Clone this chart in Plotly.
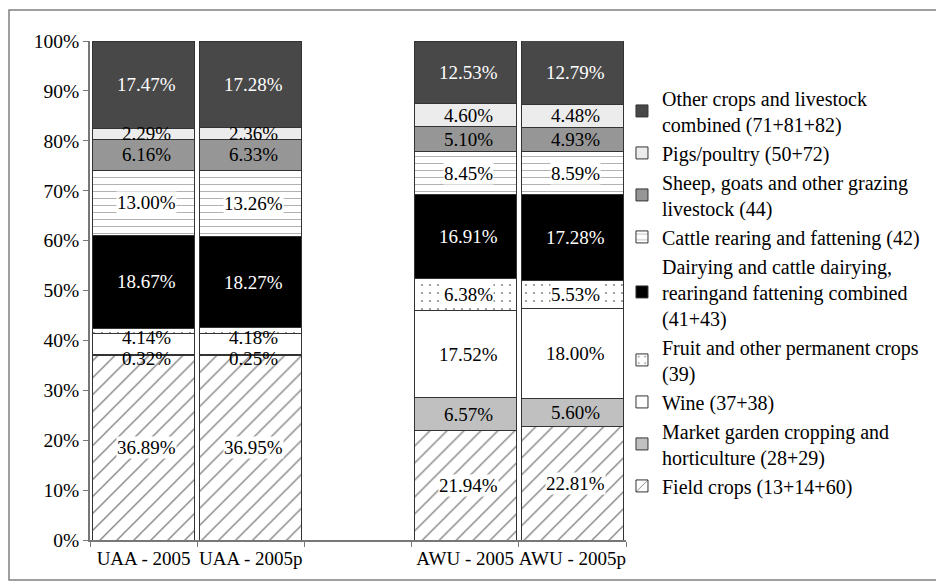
import plotly.graph_objects as go

categories = ["UAA - 2005", "UAA - 2005p", "AWU - 2005", "AWU - 2005p"]
slot_order = ["UAA - 2005", "UAA - 2005p", " ", "AWU - 2005", "AWU - 2005p"]

# series from bottom of stack to top
series_names = [
    "Field crops (13+14+60)",
    "Market garden cropping and<br>horticulture (28+29)",
    "Wine (37+38)",
    "Fruit and other permanent crops<br>(39)",
    "Dairying and cattle dairying,<br>rearingand fattening combined<br>(41+43)",
    "Cattle rearing and fattening (42)",
    "Sheep, goats and other grazing<br>livestock (44)",
    "Pigs/poultry (50+72)",
    "Other crops and livestock<br>combined (71+81+82)",
]
field_crops = [36.89, 36.95, 21.94, 22.81]
market_garden = [0.32, 0.25, 6.57, 5.60]
wine = [4.14, 4.18, 17.52, 18.00]
fruit = [1.06, 1.12, 6.38, 5.53]
dairying = [18.67, 18.27, 16.91, 17.28]
cattle_rearing = [13.00, 13.26, 8.45, 8.59]
sheep_goats = [6.16, 6.33, 5.10, 4.93]
pigs_poultry = [2.29, 2.36, 4.60, 4.48]
other_crops = [17.47, 17.28, 12.53, 12.79]
fruit_labels_shown = [False, False, True, True]

values = [field_crops, market_garden, wine, fruit, dairying,
          cattle_rearing, sheep_goats, pigs_poultry, other_crops]

styles = [
    dict(color="white", pattern=dict(shape="/", fgcolor="#000", size=12, solidity=0.11), txt="black", bg=True),
    dict(color="#c0c0c0", pattern=None, txt="black", bg=False),
    dict(color="white", pattern=None, txt="black", bg=False),
    dict(color="white", pattern=dict(shape=".", fgcolor="#111", size=8, solidity=0.06), txt="black", bg=True),
    dict(color="black", pattern=None, txt="white", bg=False),
    dict(color="white", pattern=dict(shape="-", fgcolor="#555", size=7, solidity=0.13), txt="black", bg=True),
    dict(color="#969696", pattern=None, txt="black", bg=False),
    dict(color="#ececec", pattern=None, txt="black", bg=False),
    dict(color="#484848", pattern=None, txt="white", bg=False),
]

FONT = "Liberation Serif"
fig = go.Figure()
annotations = []
bottoms = [0.0] * len(categories)
for i, (name, vals, st) in enumerate(zip(series_names, values, styles)):
    marker = dict(color=st["color"], line=dict(color="#333", width=1))
    if st["pattern"]:
        marker["pattern"] = dict(bgcolor="white", fillmode="overlay", **st["pattern"])
    fig.add_trace(go.Bar(
        x=categories, y=vals, name=name, marker=marker,
        legendgroup=f"g{i}", hoverinfo="skip",
    ))
    for j, (cat, v) in enumerate(zip(categories, vals)):
        mid = bottoms[j] + v / 2
        bottoms[j] += v
        if i == 3 and not fruit_labels_shown[j]:
            continue
        # nudge the labels of the very thin neighbouring segments apart
        ys = 0
        if i == 1 and v < 1:
            ys = -3
        elif i == 2 and v < 5:
            ys = 6
        annotations.append(dict(
            x=cat, y=mid, xref="x", yref="y", text=f"{v:.2f}%", showarrow=False,
            xshift=3, yshift=ys, font=dict(family=FONT, size=19, color=st["txt"]),
            bgcolor="white" if st["bg"] else None, borderpad=0,
        ))

fig.update_layout(
    barmode="stack", bargap=0.05,
    width=936, height=577,
    margin=dict(l=82, r=318, t=33, b=45),
    paper_bgcolor="white", plot_bgcolor="white",
    font=dict(family=FONT, size=19, color="black"),
    annotations=annotations,
    legend=dict(traceorder="reversed", x=0.9925, xanchor="left", y=0.925, yanchor="top",
                font=dict(family=FONT, size=20), tracegroupgap=1,
                bgcolor="rgba(0,0,0,0)"),
    showlegend=True,
)
fig.update_xaxes(type="category", categoryorder="array", categoryarray=slot_order,
                 range=[-0.5, 4.5], showline=True, linecolor="#777", linewidth=1.5,
                 ticks="outside", tickson="boundaries", ticklen=5, tickcolor="#777",
                 showgrid=False, tickangle=0, automargin=False,
                 tickfont=dict(family=FONT, size=19))
fig.update_yaxes(range=[0, 100], tickvals=[0, 10, 20, 30, 40, 50, 60, 70, 80, 90, 100],
                 ticktext=[f"{v}%" for v in range(0, 101, 10)],
                 showline=True, linecolor="#777", linewidth=1.5, ticks="outside",
                 ticklen=5, tickcolor="#777", showgrid=False, automargin=False,
                 tickfont=dict(family=FONT, size=19.5))

# outer frame (page body has an 8px margin)
fig.add_shape(type="rect", xref="paper", yref="paper",
              x0=(1 - 82) / 536, x1=(931 - 82) / 536,
              y0=(532 - 572) / 499, y1=(532 - 2) / 499,
              line=dict(color="#808080", width=1.5), fillcolor="rgba(0,0,0,0)")

fig.write_html("out.html")
